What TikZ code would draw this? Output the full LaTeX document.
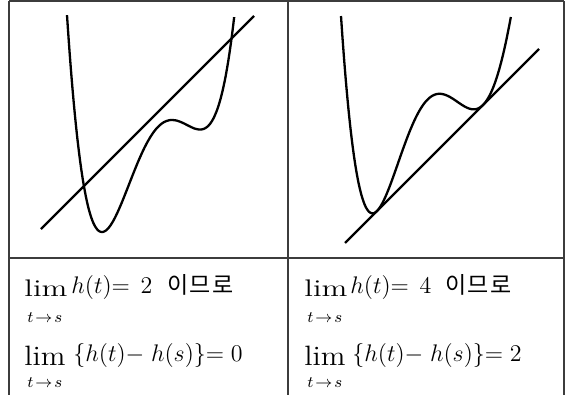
\documentclass[tikz,border=0pt]{standalone}
\usepackage{amsmath}
\usepackage{fontspec}
\newfontfamily\kofont{Noto Sans CJK KR}[LetterSpace=6]
\definecolor{tablerule}{RGB}{60,60,60}
\usetikzlibrary{positioning}

\begin{document}
\begin{tikzpicture}[x=0.5pt,y=-0.5pt,
      rule/.style={draw=tablerule,line width=0.6pt},
      tangent/.style={line width=1.15pt},
      curve/.style={line width=1.15pt,smooth,samples=160},
      txt/.style={anchor=base west,inner sep=0pt,
      font=\fontsize{11.7}{14}\selectfont},
      limsmall/.style={txt,font=\fontsize{12}{14}\selectfont},
      limbig/.style={txt,font=\fontsize{14}{16}\selectfont},
      under/.style={txt,font=\fontsize{8}{10}\selectfont},
      kor/.style={txt,font=\fontsize{11.5}{14}\kofont},
      declare function={
        hleft(\s)=232-3110*(\s*\s*\s*\s/4-0.56*\s*\s*\s+0.343*\s*\s);
        hright(\s)=158-100*\s-(\s*\s-0.2809)*(\s*\s-0.2809)*(768.1-278.6*\s-166.8*\s*\s);
      }
    ]
    \useasboundingbox (0,0) rectangle (566,395);
    % table
    \draw[rule] (9,1) -- (564,1);
    \draw[rule] (9,258) -- (564,258);
    \draw[rule] (9,1) -- (9,395);
    \draw[rule] (288,1) -- (288,395);
    \draw[rule] (564,1) -- (564,395);
    % left graph
    \coordinate (la) at (41,229);
    \coordinate (lb) at (254,16);
    \draw[tangent] (la) -- (lb);
    \draw[curve,domain=-0.35:1.323] plot ({102+100*\x},{hleft(\x)});
    % right graph
    \coordinate (ra) at (345,243);
    \coordinate (rb) at (539,49);
    \draw[tangent] (ra) -- (rb);
    \draw[curve,domain=-0.89:0.81] plot ({430+100*\x},{hright(\x)});
    % left texts
    \node[limsmall] at (24,296) (limA) {\scalebox{1.32}[1]{lim}};
    \node[under] at (27,322) (subA) {$t\mkern2mu{\to}\mkern2mu s$};
    \node[txt] at (71,293) (valA) {$h(t){=}\;\,2$};
    \node[kor] at (167,293) (korA) {이므로};
    \node[limbig] at (24,365) (limB) {\scalebox{1.08}[1]{lim}};
    \node[under] at (27,387) (subB) {$t\mkern2mu{\to}\mkern2mu s$};
    \node[txt] at (73,361) (valB) {$\{h(t){-}\;h(s)\}{=}\;0$};
    % right texts
    \node[limsmall] at (304,296) (limC) {\scalebox{1.32}[1]{lim}};
    \node[under] at (307,322) (subC) {$t\mkern2mu{\to}\mkern2mu s$};
    \node[txt] at (350,293) (valC) {$h(t){=}\;\,4$};
    \node[kor] at (445,293) (korC) {이므로};
    \node[limbig] at (304,365) (limD) {\scalebox{1.08}[1]{lim}};
    \node[under] at (307,387) (subD) {$t\mkern2mu{\to}\mkern2mu s$};
    \node[txt] at (352,361) (valD) {$\{h(t){-}\;h(s)\}{=}\;2$};
  \end{tikzpicture}
\end{document}
